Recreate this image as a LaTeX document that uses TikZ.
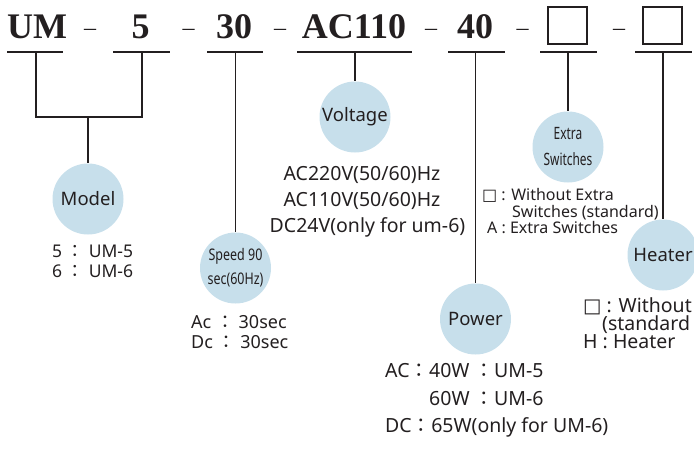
\documentclass[tikz,border=0pt]{standalone}
\usepackage{fontspec}
\setmainfont{Noto Sans}
\newfontfamily\hdrfont{Liberation Serif}
\newfontfamily\cjkfont{Noto Sans CJK TC}
\newfontfamily\symfont{DejaVu Sans}
\newfontfamily\narrowfont[FakeStretch=0.78]{Noto Sans}
\newfontfamily\narrowerfont[FakeStretch=0.7]{Noto Sans}
\newcommand{\fsz}[1]{\fontsize{#1}{#1}\selectfont}
\newcommand{\fwc}{{\cjkfont ：}}
\newcommand{\opbox}{{\symfont □}}
\definecolor{ink}{HTML}{231F20}
\definecolor{bubblefill}{HTML}{C7DFEB}
\begin{document}
\begin{tikzpicture}[x=1pt,y=-1pt,
  hdr/.style={font=\hdrfont\bfseries\fsz{36}, text=ink, inner sep=0pt, anchor=base},
  dashtxt/.style={font=\hdrfont\fsz{24}, text=ink, inner sep=0pt, anchor=base},
  optbox/.style={draw=ink, line width=1.5pt, minimum width=39pt, minimum height=37pt, inner sep=0pt},
  bubble/.style={circle, fill=bubblefill, minimum size=71pt, inner sep=0pt, text=ink},
  lbl/.style={bubble, font=\fsz{18.5}},
  nlbl/.style={bubble, font=\narrowfont\fsz{16}, align=center},
  nnlbl/.style={bubble, font=\narrowerfont\fsz{17}, align=center},
  desc/.style={font=\fsz{18}, text=ink, inner sep=0pt, anchor=base west},
  descl/.style={font=\fsz{19.5}, text=ink, inner sep=0pt, anchor=base west},
  descs/.style={font=\fsz{16}, text=ink, inner sep=0pt, anchor=base west},
  descc/.style={font=\fsz{19.5}, text=ink, inner sep=0pt, anchor=base},
  wire/.style={draw=ink, line width=1.4pt},
]
\useasboundingbox (0,0) rectangle (694,450);
\clip (0,0) rectangle (694,450);

% header
\node[hdr] (um) at (37,38) {UM};
\node[hdr] (five) at (140.5,38) {5};
\node[hdr] (thirty) at (234,38) {30};
\node[hdr] (acv) at (354,38) {AC110};
\node[hdr] (forty) at (475,38) {40};
\node[optbox] (bx1) at (567.5,25.5) {};
\node[optbox] (bx2) at (662.5,25.5) {};
\node[dashtxt] (d1) at (90,35.5) {–};
\node[dashtxt] (d2) at (188.5,35.5) {–};
\node[dashtxt] (d3) at (280,35.5) {–};
\node[dashtxt] (d4) at (431,35.5) {–};
\node[dashtxt] (d5) at (522.5,35.5) {–};
\node[dashtxt] (d6) at (619,35.5) {–};

% underline anchors
\coordinate (uUM) at (36,52);
\coordinate (uF) at (142,52);
\coordinate (uT) at (235.5,52);
\coordinate (uA) at (355,52);
\coordinate (uP) at (475.5,52);
\coordinate (uB1) at (568,52);
\coordinate (uB2) at (663,52);
\draw[wire] (7,52) -- (63,52);
\draw[wire] (113,52) -- (170,52);
\draw[wire] (207,52) -- (263,52);
\draw[wire] (297,52) -- (412,52);
\draw[wire] (448,52) -- (505,52);
\draw[wire] (540,52) -- (597,52);
\draw[wire] (635,52) -- (692,52);

% bubbles
\node[lbl] (model) at (88,199) {Model};
\node[nlbl] (speed) at (235.5,268) {Speed 90\\[8pt]sec(60Hz)};
\node[lbl] (volt) at (355,117) {Voltage};
\node[lbl] (power) at (475.5,319) {Power};
\node[nnlbl] (extra) at (568,147) {Extra\\[9pt]Switches};
\node[lbl] (heater) at (663,255) {Heater};

% connectors
\coordinate (jM) at (88,117);
\draw[wire] (uUM) |- (jM) -| (uF);
\draw[wire] (jM) -- (model.north);
\draw[wire] (uT) -- (speed.north);
\draw[wire] (uA) -- (volt.north);
\draw[wire] (uP) -- (power.north);
\draw[wire] (uB1) -- (extra.north);
\draw[wire] (uB2) -- (heater.north);

% descriptions
\node[desc,font=\fsz{17.5}] (m1) at (52,257) {5 \fwc{} UM-5};
\node[desc,font=\fsz{17.5}] (m2) at (52,277) {6 \fwc{} UM-6};

\node[desc] (s1) at (191,328) {Ac \fwc{} 30sec};
\node[desc] (s2) at (191,348) {Dc \fwc{} 30sec};

\node[descc] (v1) at (362,180) {AC220V(50/60)Hz};
\node[descc] (v2) at (362,206) {AC110V(50/60)Hz};
\node[descc] (v3) at (367.5,232) {DC24V(only for um-6)};

\node[descl] (p1) at (385,377) {AC\fwc{}40W \fwc{}UM-5};
\node[descl] (p2) at (429,405) {60W \fwc{}UM-6};
\node[descl] (p3) at (385,432) {DC\fwc{}65W(only for UM-6)};

\node[descs] (e1) at (482,200) {\opbox{} : Without Extra};
\node[descs] (e2) at (512,217) {Switches (standard)};
\node[descs] (e3) at (487,233) {A : Extra Switches};

\node[descl] (h1) at (583,312) {\opbox{} : Without};
\node[descl] (h2) at (602,330) {(standard};
\node[descl] (h3) at (583,348) {H : Heater};
\end{tikzpicture}
\end{document}
